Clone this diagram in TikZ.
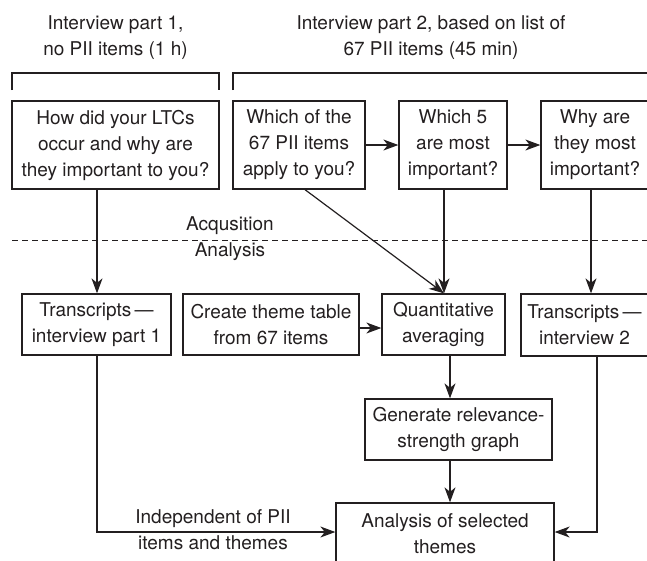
\documentclass[tikz,border=0pt]{standalone}
\usepackage{fontspec}
\setmainfont{TeX Gyre Heros}
\usetikzlibrary{arrows.meta}
\definecolor{ink}{HTML}{231F20}
\tikzset{
  box/.style={draw=ink, line width=1.3pt, inner sep=0pt, align=center, text=ink,
    font=\fontsize{19}{26}\selectfont},
  lbl/.style={inner sep=0pt, align=center, text=ink, font=\fontsize{19}{26}\selectfont},
  conn/.style={draw=ink, line width=1.2pt},
  arr/.style={conn, -{Stealth[length=15pt, width=11pt, inset=4.5pt]}},
}
\begin{document}
\begin{tikzpicture}[x=1pt, y=-1pt]
\clip (0,0) rectangle (647,560);
% headers
\node[lbl] (h1) at (115.5,38) {Interview part 1,\\no PII items (1 h)};
\node[lbl] (h2) at (431,38) {Interview part 2, based on list of\\67 PII items (45 min)};
% brackets
\coordinate (k1a) at (12,90);
\coordinate (k1b) at (219,90);
\coordinate (k2a) at (233,90);
\coordinate (k2b) at (660,90);
\draw[conn] (k1a) |- (115,73) -| (k1b);
\draw[conn] (k2a) |- (440,73) -| (k2b);
% top row
\node[box, minimum width=207pt, minimum height=88pt] (b1) at (115.5,145) {How did your LTCs\\occur and why are\\they important to you?};
\node[box, minimum width=132pt, minimum height=88pt] (b2) at (299,145) {Which of the\\67 PII items\\apply to you?};
\node[box, minimum width=108pt, minimum height=88pt] (b3) at (453,145) {Which 5\\are most\\important?};
\node[box, minimum width=108pt, minimum height=88pt] (b4) at (595,145) {Why are\\they most\\important?};
% divider
\coordinate (dl) at (12,240);
\coordinate (dr) at (647,240);
\draw[conn, line width=1pt, dash pattern=on 6pt off 4pt] (dl) -- (dr);
\node[lbl] (acq) at (230,226) {Acqusition};
\node[lbl] (ana) at (230,252) {Analysis};
% second row
\node[box, minimum width=149pt, minimum height=61pt] (t1) at (96.5,324.5) {Transcripts\,—\\interview part 1};
\node[box, minimum width=176pt, minimum height=61pt] (ct) at (271,324.5) {Create theme table\\from 67 items};
\node[box, minimum width=123pt, minimum height=61pt] (qa) at (443.5,324.5) {Quantitative\\averaging};
\node[box, minimum width=127pt, minimum height=62pt] (t2) at (584.5,325) {Transcripts\,—\\interview 2};
% lower
\node[box, minimum width=187pt, minimum height=61pt] (gen) at (458.5,429.5) {Generate relevance-\\strength graph};
\node[box, minimum width=218pt, minimum height=62pt] (an) at (445,534) {Analysis of selected\\themes};
\node[lbl] (ind) at (213,530) {Independent of PII\\items and themes};
% guide coordinates
\coordinate (x1) at (97,0);
\coordinate (x2) at (305,0);
\coordinate (x3) at (444,0);
\coordinate (x4) at (591,0);
\coordinate (x5) at (450,0);
\coordinate (x6) at (597,0);
\coordinate (yl) at (0,532);
\coordinate (yc) at (0,328);
% connectors
\draw[arr] (b2.east) -- (b3.west);
\draw[arr] (b3.east) -- (b4.west);
\draw[arr] (b1.south -| x1) -- (t1.north -| x1);
\draw[arr] (b2.south -| x2) -- (qa.north -| x3);
\draw[arr] (b3.south -| x3) -- (qa.north -| x3);
\draw[arr] (b4.south -| x4) -- (t2.north -| x4);
\draw[arr] (ct.east |- yc) -- (qa.west |- yc);
\draw[arr] (qa.south -| x5) -- (gen.north -| x5);
\draw[arr] (gen.south -| x5) -- (an.north -| x5);
\draw[arr] (t1.south -| x1) |- (an.west |- yl);
\draw[arr] (t2.south -| x6) |- (an.east |- yl);
\end{tikzpicture}
\end{document}
